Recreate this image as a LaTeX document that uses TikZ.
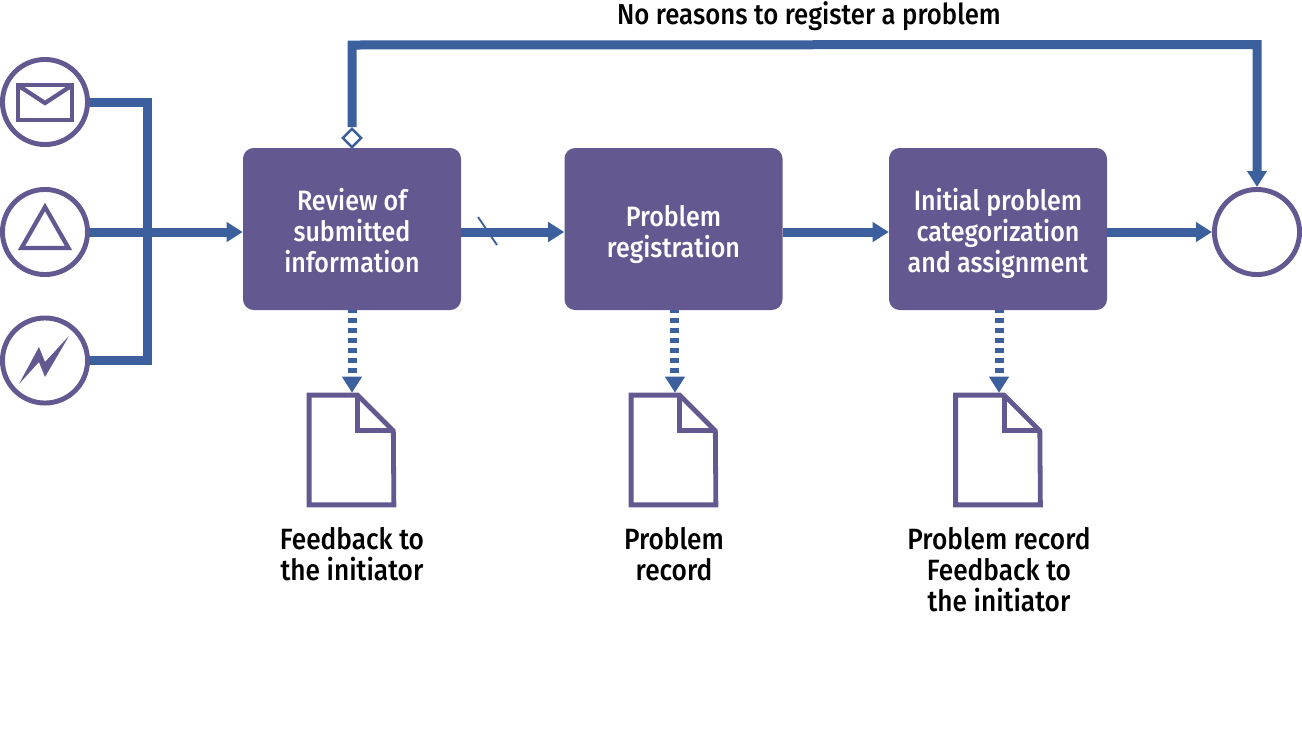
\documentclass[tikz,border=0pt]{standalone}
\usepackage{fontspec}
\setmainfont[FakeStretch=0.895,UprightFont=* Medium]{Fira Sans}
\usetikzlibrary{arrows.meta,shapes.geometric,calc}
\definecolor{boxpurple}{HTML}{635890}
\definecolor{flowblue}{HTML}{3C5F9E}
\tikzset{
  x=0.75pt,y=-0.75pt,
  flow/.style={draw=flowblue,line width=6.75pt,line join=miter},
  flowtip/.style={flow,-{Triangle[length=12pt,width=14.25pt]}},
  outflow/.style={flowtip,dash pattern=on 3.75pt off 3.75pt,dash phase=1.875pt},
  stepbox/.style={rectangle,rounded corners=8pt,fill=boxpurple,minimum width=163.5pt,minimum height=121.5pt,inner sep=0pt},
  steptext/.style={text=white,align=center,inner sep=0pt,font=\fontsize{21}{23.25}\selectfont},
  eventc/.style={circle,draw=boxpurple,line width=3.7pt,fill=white,minimum size=63.8pt,inner sep=0pt},
  docarea/.style={rectangle,minimum width=66.75pt,minimum height=85.5pt,inner sep=0pt},
  doc/.style={draw=boxpurple,line width=3.6pt,line join=miter},
  icon/.style={draw=boxpurple,line width=3.2pt,line join=miter},
  caption/.style={align=center,inner sep=0pt,font=\fontsize{22}{23.25}\selectfont}
}
\newcommand{\docshape}[1]{%
  \path[doc,fill=white] ($(#1.north west)+(2.4,2.4)$) -- ($(#1.north west)+(51,2.4)$) -- ($(#1.north west)+(86.6,38)$) -- ($(#1.south east)+(-2.4,-2.4)$) -- ($(#1.south west)+(2.4,-2.4)$) -- cycle;
  \path[doc] ($(#1.north west)+(51,2.4)$) -- ($(#1.north west)+(51,38)$) -- ($(#1.north west)+(86.6,38)$);
}
\begin{document}
\begin{tikzpicture}
\useasboundingbox (0,0) rectangle (1302,747);
% event circles
\node[eventc] (c1) at (45,102) {};
\node[eventc] (c2) at (45,232) {};
\node[eventc] (c3) at (45,360.5) {};
\node[eventc] (endc) at (1257,232) {};
% icons
\draw[icon] (18,85) rectangle (72,120);
\draw[icon] (19,86) -- (45,103) -- (71,86);
\draw[icon] (45,207) -- (68.5,248) -- (21.5,248) -- cycle;
\fill[boxpurple] (19,384) -- (39,347) -- (45,362) -- (69,336) -- (45,377) -- (39,362) -- cycle;
% steps
\node[stepbox,label={[steptext,yshift=-1.2pt]center:Review of\\submitted\\information}] (b1) at (352,229) {};
\node[stepbox,label={[steptext,yshift=-4pt]center:Problem\\registration}] (b2) at (673.5,229) {};
\node[stepbox,label={[steptext,yshift=-3.2pt]center:Initial problem\\categorization\\and assignment}] (b3) at (998,229) {};
% documents
\node[docarea] (d1) at (351.5,450) {};
\node[docarea] (d2) at (673.5,450) {};
\node[docarea] (d3) at (998,450) {};
\docshape{d1}\docshape{d2}\docshape{d3}
% labels
\node[caption,anchor=north] (l1) at (352,527) {Feedback to\\the initiator};
\node[caption,anchor=north] (l2) at (674,527) {Problem\\record};
\node[caption,anchor=north] (l3) at (999,527) {Problem record\\Feedback to\\the initiator};
\node[caption,font=\fontsize{21.6}{23.25}\selectfont] (top) at (809,16) {No reasons to register a problem};
% junctions
\coordinate (j1) at (147,102);
\coordinate (j3) at (147,360.5);
\coordinate (tl) at (352,45);
\coordinate (tr) at (1257,44.5);
% flows
\draw[flow] (c1.east) -- (j1) -- (j3) -- (c3.east);
\draw[flowtip] (c2.east) -- (c2.east -| b1.west);
\draw[flowtip] (c2.east -| b1.east) -- (c2.east -| b2.west);
\draw[flowtip] (c2.east -| b2.east) -- (c2.east -| b3.west);
\draw[flowtip] (c2.east -| b3.east) -- (endc.west);
\node[diamond,draw=flowblue,fill=white,line width=1.9pt,minimum width=14.5pt,minimum height=14.5pt,inner sep=0pt,aspect=1] (dm) at (352,138) {};
\draw[flowtip] (dm.north) -- (tl) -- (tr) -- (endc.north);
\draw[draw=flowblue,line width=1.4pt] (478,217) -- (497,245);
% output flows
\draw[outflow] (b1.south) -- (d1.north -| b1.south);
\draw[outflow] ([xshift=1.1pt]b2.south) -- ([xshift=1.1pt]d2.north);
\draw[outflow] ([xshift=0.75pt]b3.south) -- ([xshift=0.75pt]d3.north);
\end{tikzpicture}
\end{document}
